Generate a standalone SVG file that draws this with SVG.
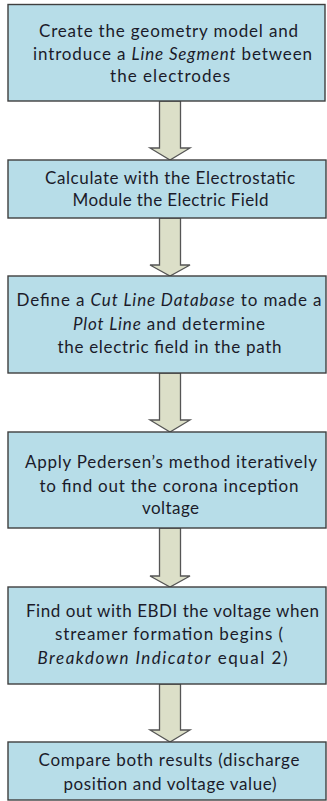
<svg xmlns="http://www.w3.org/2000/svg" width="327" height="801" viewBox="0 0 327 801">
  <style>
    .box { fill: #b7dde8; stroke: #3f3f3f; stroke-width: 1.4; }
    .arrow { fill: #dcdfc8; stroke: #555555; stroke-width: 1.3; stroke-linejoin: miter; }
    .lbl { font-family: Lato, "Liberation Sans", sans-serif; font-size: 17px; fill: #1b1b2a; text-anchor: middle; }
    .it { font-style: italic; }
  </style>
  <rect width="327" height="801" fill="#ffffff"/>

  <!-- block arrows between the steps -->
  <g id="connectors">
    <path class="arrow" d="M159.5,101 H180.5 V148 H190 L170,160 L150,148 H159.5 Z"/>
    <path class="arrow" d="M159.5,218 H180.5 V265 H190 L170,276 L150,265 H159.5 Z"/>
    <path class="arrow" d="M159.5,373 H180.5 V420 H190 L170,432 L150,420 H159.5 Z"/>
    <path class="arrow" d="M159.5,528 H180.5 V576 H190 L170,587 L150,576 H159.5 Z"/>
    <path class="arrow" d="M159.5,684 H180.5 V730 H190 L170,742 L150,730 H159.5 Z"/>
  </g>

  <g id="step1">
    <rect class="box" x="8" y="4.5" width="317" height="96.5"/>
    <text class="lbl" x="168.5" y="37" textLength="259">Create the geometry model and</text>
    <text class="lbl" x="172.5" y="59.5" textLength="279">introduce a <tspan class="it">Line Segment</tspan> between</text>
    <text class="lbl" x="170" y="82" textLength="120">the electrodes</text>
  </g>

  <g id="step2">
    <rect class="box" x="8" y="160" width="318" height="58"/>
    <text class="lbl" x="170" y="183.5" textLength="250">Calculate with the Electrostatic</text>
    <text class="lbl" x="170.5" y="206" textLength="196">Module the Electric Field</text>
  </g>

  <g id="step3">
    <rect class="box" x="8" y="276" width="318" height="97"/>
    <text class="lbl" x="169" y="306" textLength="305">Define a <tspan class="it">Cut Line Database</tspan> to made a</text>
    <text class="lbl" x="169" y="329.5" textLength="192"><tspan class="it">Plot Line</tspan> and determine</text>
    <text class="lbl" x="169.5" y="352.5" textLength="224">the electric field in the path</text>
  </g>

  <g id="step4">
    <rect class="box" x="8" y="432" width="318" height="96"/>
    <text class="lbl" x="171" y="468" textLength="292">Apply Pedersen’s method iteratively</text>
    <text class="lbl" x="169" y="491.5" textLength="259">to find out the corona inception</text>
    <text class="lbl" x="170.5" y="513.5" textLength="57">voltage</text>
  </g>

  <g id="step5">
    <rect class="box" x="8" y="587" width="318" height="97"/>
    <text class="lbl" x="172.5" y="616.5" textLength="293">Find out with EBDI the voltage when</text>
    <text class="lbl" x="169" y="640" textLength="228">streamer formation begins (</text>
    <text class="lbl" x="162.5" y="663.5" textLength="250"><tspan class="it">Breakdown Indicator</tspan> equal 2)</text>
  </g>

  <g id="step6">
    <rect class="box" x="8" y="742" width="318" height="58"/>
    <text class="lbl" x="169" y="766" textLength="261">Compare both results (discharge</text>
    <text class="lbl" x="170" y="789.5" textLength="213">position and voltage value)</text>
  </g>
</svg>
